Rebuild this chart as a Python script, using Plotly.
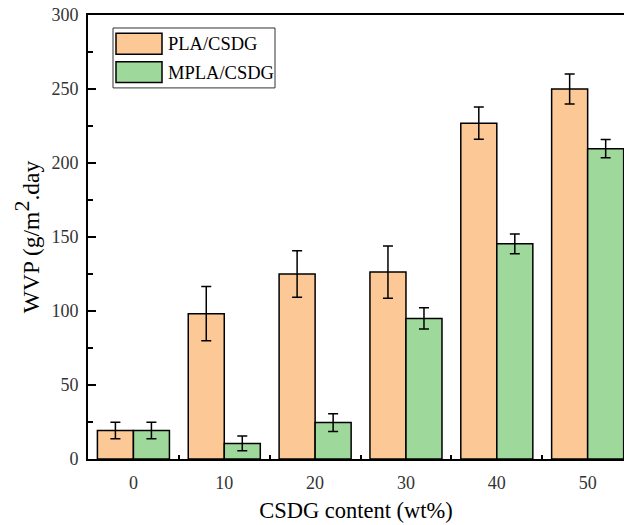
import plotly.graph_objects as go

categories = ["0", "10", "20", "30", "40", "50"]
series_names = ["PLA/CSDG", "MPLA/CSDG"]
pla_values = [19.2, 98.2, 125.0, 126.3, 226.9, 250.0]
pla_errors = [5.6, 18.3, 15.7, 17.7, 10.9, 10.2]
mpla_values = [19.2, 10.5, 24.6, 95.0, 145.4, 209.7]
mpla_errors = [5.6, 5.0, 6.0, 7.2, 6.7, 6.2]
colors = ["#FCC896", "#9ED89B"]

W, H = 624, 525
ML, MR, MT, MB = 88, 0, 15, 65.5
PW, PH = W - ML - MR, H - MT - MB
FONT = "Liberation Serif"


def px2paper(x, y):
    return (x - ML) / PW, (H - MB - y) / PH


fig = go.Figure()
for name, vals, errs, col in [
    (series_names[0], pla_values, pla_errors, colors[0]),
    (series_names[1], mpla_values, mpla_errors, colors[1]),
]:
    fig.add_trace(go.Bar(
        x=categories, y=vals, name=name,
        marker=dict(color=col, line=dict(color="black", width=1.5)),
        error_y=dict(type="data", array=errs, color="black", thickness=1.5, width=5),
        showlegend=False,
    ))

# custom legend (box + swatches + text)
shapes = []
annotations = []
bx0, by0 = px2paper(113, 88)
bx1, by1 = px2paper(275, 28)
shapes.append(dict(type="rect", xref="paper", yref="paper", x0=bx0, x1=bx1, y0=by0, y1=by1,
                   line=dict(color="#333", width=1), fillcolor="white", layer="above"))
for i, (name, col) in enumerate(zip(series_names, colors)):
    top = 33.3 + i * 28.4
    sx0, sy0 = px2paper(116, top + 21)
    sx1, sy1 = px2paper(162, top)
    shapes.append(dict(type="rect", xref="paper", yref="paper", x0=sx0, x1=sx1, y0=sy0, y1=sy1,
                       line=dict(color="black", width=1.5), fillcolor=col, layer="above"))
    tx, ty = px2paper(166, top + 11)
    annotations.append(dict(text=name, xref="paper", yref="paper", x=tx, y=ty,
                            xanchor="left", yanchor="middle", showarrow=False,
                            font=dict(family=FONT, size=18.5, color="black")))

fig.update_layout(
    width=W, height=H,
    margin=dict(l=ML, r=MR, t=MT, b=MB, pad=0),
    paper_bgcolor="white", plot_bgcolor="white",
    barmode="group", bargap=0.207, bargroupgap=0,
    font=dict(family=FONT, size=18, color="black"),
    shapes=shapes, annotations=annotations,
    xaxis=dict(
        type="category", categoryorder="array", categoryarray=categories,
        range=[-0.5, 5.40],
        showline=True, linecolor="black", linewidth=2, mirror=True,
        ticks="inside", tickson="boundaries", ticklen=4, tickwidth=1.5, tickcolor="black",
        tickfont=dict(family=FONT, size=18, color="#333"),
        ticklabelstandoff=6,
        showgrid=False, zeroline=False,
        title=dict(text="CSDG content (wt%)", font=dict(family=FONT, size=22.5, color="black"), standoff=11),
    ),
    yaxis=dict(
        range=[0, 300], dtick=50, tick0=0,
        showline=True, linecolor="black", linewidth=2, mirror=False,
        ticks="inside", ticklen=8, tickwidth=1.5, tickcolor="black",
        minor=dict(dtick=25, ticks="inside", ticklen=5, tickwidth=1.5, tickcolor="black", showgrid=False),
        tickfont=dict(family=FONT, size=18, color="#333"),
        ticklabelstandoff=4,
        showgrid=False, zeroline=False,
        title=dict(text="WVP (g/m<sup><span style='font-size:22px'>2</span></sup>.day",
                   font=dict(family=FONT, size=23.5, color="black"), standoff=5),
    ),
)

fig.write_html("out.html")
